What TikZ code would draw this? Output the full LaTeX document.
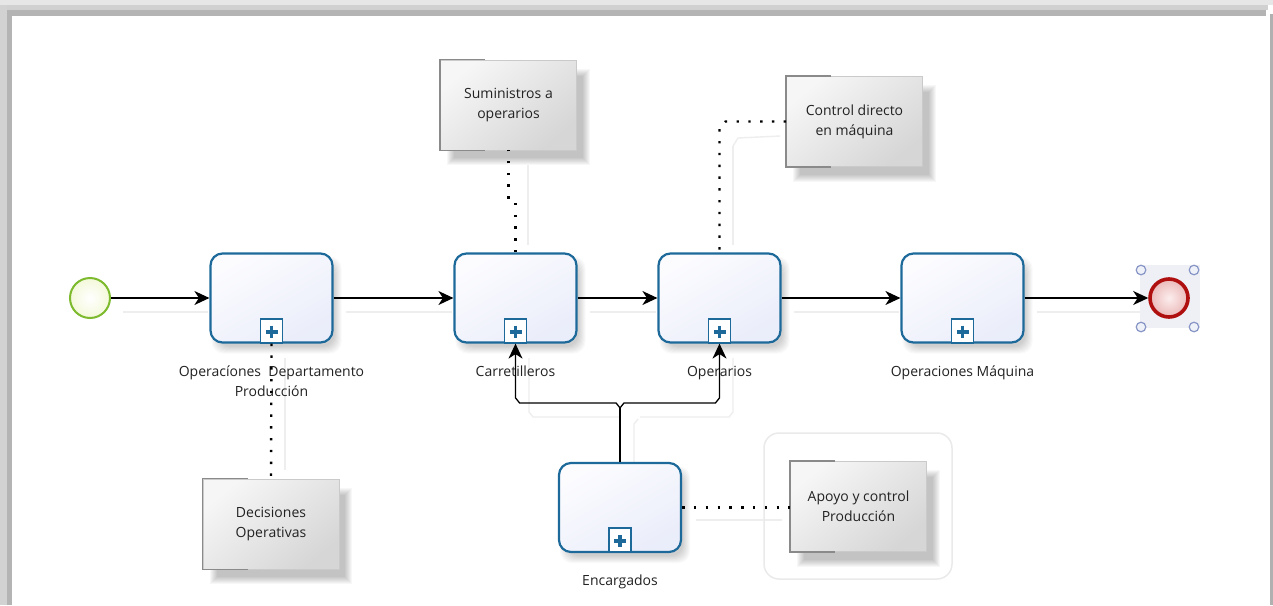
\documentclass[tikz,border=0pt]{standalone}
\usepackage{fontspec}
\setmainfont{Open Sans}
\usetikzlibrary{arrows.meta,calc}

\definecolor{taskblue}{HTML}{1D6A9A}
\definecolor{taskfillA}{HTML}{FCFCFF}
\definecolor{taskfillB}{HTML}{EAEDFA}
\definecolor{startgreen}{HTML}{7DBA2E}
\definecolor{startfill}{HTML}{F3F9DA}
\definecolor{endred}{HTML}{B00F0F}
\definecolor{endfillA}{HTML}{FCEDED}
\definecolor{endfillB}{HTML}{EBB9B9}
\definecolor{annA}{HTML}{F6F6F6}
\definecolor{annB}{HTML}{D6D6D6}
\definecolor{annline}{HTML}{CACACA}
\definecolor{annbracket}{HTML}{8A8A8A}
\definecolor{txt}{HTML}{222222}
\definecolor{ghost}{HTML}{EEEEEE}
\definecolor{handle}{HTML}{8795C6}
\definecolor{handlefill}{HTML}{EEF1F8}
\definecolor{selfill}{HTML}{EEF0F5}

\pgfdeclarelayer{bg}
\pgfdeclarelayer{shade}
\pgfsetlayers{bg,shade,main}

% soft shadow behind a rectangular node: node, dx, dy, corner radius, layer opacity
\newcommand{\softshadow}[5]{%
  \begin{pgfonlayer}{shade}
  \foreach \k in {-3,...,4}{
    \fill[black, opacity=#5, rounded corners=#4]
      ($(#1.north west)+(#2+\k,#3+\k)$) rectangle ($(#1.south east)+(#2-\k,#3-\k)$);
  }
  \end{pgfonlayer}}

\begin{document}
\begin{tikzpicture}[x=1pt,y=-1pt,
  font=\fontsize{14}{20}\selectfont,
  task/.style={draw=taskblue, line width=2.2pt, rounded corners=12pt,
    minimum width=122pt, minimum height=89pt, inner sep=0pt,
    top color=taskfillA, bottom color=taskfillB, shading angle=30},
  submark/.style={draw=taskblue, line width=1.8pt, fill=white,
    minimum width=22pt, minimum height=24pt, inner sep=0pt, anchor=south},
  plus/.style={taskblue, line width=3.6pt},
  lbl/.style={text=txt, align=center, inner sep=0pt, anchor=north},
  annot/.style={draw=annline, line width=0.8pt, minimum width=136pt, minimum height=90pt,
    inner sep=0pt, align=center, text=txt,
    top color=annA, bottom color=annB, shading angle=40},
  bracket/.style={draw=annbracket, line width=1.4pt},
  flow/.style={line width=1.3pt, black, -{Stealth[length=15pt,width=14pt,inset=4.5pt]}},
  plainflow/.style={line width=1.3pt, black},
  assoc/.style={line width=2.4pt, dash pattern=on 2.4pt off 9.4pt},
  ghostline/.style={ghost, line width=1.4pt},
]
\useasboundingbox (0,0) rectangle (1273,605);

% window frame
\begin{pgfonlayer}{bg}
\fill[white] (0,0) rectangle (1273,605);
\fill[color={rgb,255:red,230;green,230;blue,230}] (0,0) rectangle (1273,5);
\fill[color={rgb,255:red,208;green,208;blue,208}] (0,5) rectangle (1268,10);
\fill[color={rgb,255:red,180;green,180;blue,180}] (12,10) rectangle (1266,16);
\fill[color={rgb,255:red,210;green,210;blue,210}] (0,5) rectangle (7,605);
\fill[color={rgb,255:red,180;green,180;blue,180}] (7,10) rectangle (12,605);
\fill[color={rgb,255:red,176;green,176;blue,176}] (1270,14) rectangle (1273,605);

% faint connector shadows
\draw[ghostline] (123,312) -- (208,312);
\draw[ghostline] (346,312) -- (452,312);
\draw[ghostline] (590,312) -- (656,312);
\draw[ghostline] (794,312) -- (899,312);
\draw[ghostline] (1037,312) -- (1146,312);
\draw[ghostline] (529,358) -- (529,412) -- (533,417) -- (620,417);
\draw[ghostline] (733,358) -- (733,412) -- (729,417) -- (640,417);
\draw[ghostline] (634,462) -- (634,424) -- (638,419);
\draw[ghostline] (285,358) -- (285,470);
\draw[ghostline] (528,165) -- (528,245);
\draw[ghostline] (733,146) -- (733,245);
\draw[ghostline] (733,146) -- (738,138) -- (780,136);
\draw[ghostline] (696,520) -- (782,520);

% group frame around the annotation
\draw[color={rgb,255:red,234;green,234;blue,234}, line width=1.5pt, rounded corners=15pt]
  (764,433) rectangle (952,579);

% selection area of the end event
\fill[selfill] (1140,265) rectangle (1200,328);
\end{pgfonlayer}

% start event
\node[circle, draw=startgreen, line width=2pt, minimum size=40pt, inner sep=0pt,
  inner color=white, outer color=startfill] (start) at (90,298) {};

% sub-process tasks
\node[task] (t1) at (271.5,298) {};
\node[task] (t2) at (515.5,298) {};
\node[task] (t3) at (719.5,298) {};
\node[task] (t4) at (962.5,298) {};
\node[task] (enc) at (620,507.5) {};
\foreach \t in {t1,t2,t3,t4,enc}{\softshadow{\t}{5}{7}{12pt}{0.022}}

% collapsed sub-process markers
\foreach \t/\m in {t1/m1, t2/m2, t3/m3, t4/m4, enc/m5}{
  \node[submark] (\m) at (\t.south) {};
  \draw[plus] ($(\m.center)+(-6,1)$) -- ($(\m.center)+(6,1)$);
  \draw[plus] ($(\m.center)+(0,-5)$) -- ($(\m.center)+(0,7)$);
}

% task labels
\node[lbl] (l1) at ($(t1.south)+(0,22)$) {Operacíones\ \ Departamento\\Producción};
\node[lbl] (l2) at ($(t2.south)+(0,22)$) {Carretilleros};
\node[lbl] (l3) at ($(t3.south)+(0,22)$) {Operarios};
\node[lbl] (l4) at ($(t4.south)+(0,22)$) {Operaciones Máquina};
\node[lbl] (l5) at ($(enc.south)+(0,22)$) {Encargados};

% end event with selection handles
\node[circle, draw=endred, line width=3.6pt, minimum size=38pt, inner sep=0pt,
  inner color=endfillA, outer color=endfillB] (end) at (1169,298) {};
\foreach \p in {(1141,270),(1194,270),(1141,327),(1194,327)}
  \draw[handle, fill=handlefill, line width=1.2pt] \p circle (4.8);

% sequence flows
\draw[flow] (start) -- (t1);
\draw[flow] (t1) -- (t2);
\draw[flow] (t2) -- (t3);
\draw[flow] (t3) -- (t4);
\draw[flow] (t4) -- (end);

% Encargados feeding both tasks
\coordinate (fork) at ($(enc.north)+(0,-54)$);
\draw[plainflow] (enc.north) -- (fork);
\draw[flow] (fork) -- ++(-4,-5) -- ($(m2.south |- fork)+(4,-5)$) -- ($(m2.south |- fork)+(0,-10)$) -- (m2.south);
\draw[flow] (fork) -- ++(4,-5) -- ($(m3.south |- fork)+(-4,-5)$) -- ($(m3.south |- fork)+(0,-10)$) -- (m3.south);

% text annotations
\node[annot] (sum) at (508.5,105) {Suministros a\\operarios};
\node[annot] (ctrl) at (854.5,121.5) {Control directo\\en máquina};
\node[annot] (dec) at (271,524) {Decisiones\\Operativas};
\node[annot] (apo) at (858.5,506.5) {Apoyo y control\\Producción};
\foreach \a in {sum, ctrl, dec, apo}{
  \softshadow{\a}{10}{12}{0pt}{0.03}
  \draw[bracket] ($(\a.north west)+(45,0)$) -- (\a.north west) -- (\a.south west) -- ++(45,0);
}

% associations
\draw[assoc] (t2.north) -- ++(0,-50) -- ($(sum.south)+(0,50)$) -- (sum.south);
\draw[assoc] (ctrl.west) -- ($(t3.north |- ctrl.west)+(6,0)$) -- ($(t3.north |- ctrl.west)+(0,6)$) -- (t3.north);
\draw[assoc] (m1.south) -- (dec.north);
\draw[assoc] (enc.east) -- (apo.west |- enc.east);
\end{tikzpicture}
\end{document}
